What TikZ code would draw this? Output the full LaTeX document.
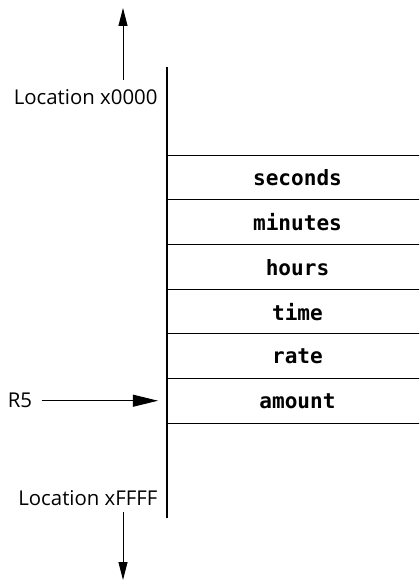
\documentclass[tikz,border=0pt]{standalone}
\usepackage{fontspec}
\setmainfont{Open Sans}
\setmonofont{DejaVu Sans Mono}
\usetikzlibrary{arrows.meta, positioning}

\begin{document}
\begin{tikzpicture}[
  line width=0.7pt,
  cell/.style={minimum width=6.5cm, minimum height=1.1167cm, inner sep=0pt,
    font=\ttfamily\bfseries\fontsize{15}{17}\selectfont},
  lbl/.style={font=\fontsize{14.5}{16}\selectfont, inner sep=0pt},
  vtip/.style={-{Triangle[length=12.8pt, width=6.4pt]}},
  htip/.style={-{Triangle[length=17.8pt, width=8.5pt]}}
]
  \clip (0,0) rectangle (10.475,14.575);

  % memory cells
  \foreach \name [count=\i from 0] in {seconds,minutes,hours,time,rate,amount}
    \node[cell, anchor=north west] (\name) at (4.175, 10.7-\i*1.1167) {\name};
  \foreach \name in {seconds,minutes,hours,time,rate,amount}
    \draw (\name.north west) -- (\name.north east);
  \draw (amount.south west) -- (amount.south east);

  % edge of memory
  \coordinate (top) at (4.175, 12.9);
  \coordinate (bottom) at (4.175, 1.625);
  \draw[line width=1pt] (top) -- (bottom);

  % the two ends
  \node[lbl, anchor=east] (low) at (3.95, 12.15) {Location x0000};
  \node[lbl, anchor=east] (high) at (3.95, 2.125) {Location xFFFF};
  \coordinate (upfoot) at (3.075, 12.575);
  \coordinate (uptip) at (3.075, 14.375);
  \coordinate (downfoot) at (3.075, 1.775);
  \coordinate (downtip) at (3.075, 0.075);
  \draw[vtip] (upfoot) -- (uptip);
  \draw[vtip] (downfoot) -- (downtip);

  % register pointer
  \node[lbl] (r5) at (0.5, 4.557) {R5};
  \coordinate (r5tip) at (3.95, 4.557);
  \draw[htip, shorten <=0.225cm] (r5) -- (r5tip);
\end{tikzpicture}
\end{document}
